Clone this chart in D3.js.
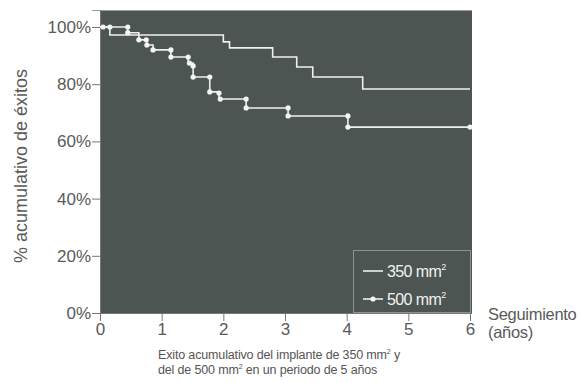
<!DOCTYPE html>
<html><head><meta charset="utf-8">
<script src="https://cdn.jsdelivr.net/npm/d3@7"></script>
<style>
body{margin:0;background:#fff;}
text{font-family:"Liberation Sans",Arial,Helvetica,sans-serif;}
</style></head>
<body><svg id="c" width="580" height="383"></svg>
<script>
// ---- data ----
const xTicks = [0,1,2,3,4,5,6];
const yTicks = [0,20,40,60,80,100];
// 350 mm² series: step times (years) and cumulative success (%)
const times350 = [0, 0.16, 2.0, 2.1, 2.8, 3.19, 3.45, 4.26, 6.0];
const surv350  = [100, 97.2, 94.8, 92.7, 89.5, 86.0, 82.5, 78.3, 78.3];
// 500 mm² series: step times and values
const times500 = [0, 0.45, 0.63, 0.76, 0.86, 1.15, 1.43, 1.51, 1.78, 1.93, 2.37, 3.05, 4.02, 6.0];
const surv500  = [100, 98.0, 95.5, 93.7, 92.0, 89.5, 87.4, 82.5, 77.3, 74.8, 71.7, 68.9, 65.0, 65.0];
// 500 mm² markers (time, %)
const marks500t = [0.05,0.16,0.45,0.45,0.63,0.75,0.76,0.86,1.15,1.15,1.43,1.45,1.51,1.51,1.78,1.78,1.93,1.95,2.37,2.37,3.05,3.05,4.02,4.02,6.0];
const marks500v = [100,100,100,98,95.5,95.5,93.7,92,92,89.5,89.5,87.4,86.4,82.5,82.5,77.3,76.9,74.8,74.8,71.7,71.7,68.9,68.9,65,65];
const legendLabels = ["350 mm", "500 mm"];

const svg = d3.select("#c");
const x = d3.scaleLinear().domain([0,6]).range([100,470]);
const y = d3.scaleLinear().domain([0,100]).range([313,27]);

const bg = "#4c5551";
svg.append("rect").attr("x",100).attr("y",10).attr("width",372).attr("height",303).attr("fill",bg);
svg.append("line").attr("x1",92).attr("x2",472).attr("y1",10.5).attr("y2",10.5).attr("stroke","#9a9a9a").attr("stroke-width",1);

// axes
const ya = svg.append("g").attr("transform","translate(100,0)")
  .call(d3.axisLeft(y).tickValues(yTicks).tickSize(8).tickPadding(1).tickFormat(d=>d+"%"));
ya.select(".domain").remove();
ya.selectAll("line").attr("stroke","#777");
ya.selectAll("text").attr("fill","#5a5a5a").attr("font-size",17);

const xa = svg.append("g").attr("transform","translate(0,313)")
  .call(d3.axisBottom(x).tickValues(xTicks).tickSize(8).tickPadding(2).tickFormat(d3.format("d")));
xa.select(".domain").remove();
xa.selectAll("line").attr("stroke","#777");
xa.selectAll("text").attr("fill","#5a5a5a").attr("font-size",17);
svg.append("line").attr("x1",100.5).attr("x2",100.5).attr("y1",10).attr("y2",321).attr("stroke","#777");
svg.append("line").attr("x1",92).attr("x2",472).attr("y1",313.5).attr("y2",313.5).attr("stroke","#777");

// series
const line = d3.line().x(d=>x(d[0])).y(d=>y(d[1])).curve(d3.curveStepAfter);
const d350 = times350.map((t,i)=>[t,surv350[i]]);
const d500 = times500.map((t,i)=>[t,surv500[i]]);
svg.append("path").attr("d",line(d350)).attr("fill","none").attr("stroke","#eef0ee").attr("stroke-width",1.6);
svg.append("path").attr("d",line(d500)).attr("fill","none").attr("stroke","#eef0ee").attr("stroke-width",1.6);
svg.append("g").selectAll("circle").data(marks500t.map((t,i)=>[t,marks500v[i]])).join("circle")
  .attr("cx",d=>x(d[0])).attr("cy",d=>y(d[1])).attr("r",2.6).attr("fill","#f4f4f4");

// legend
svg.append("rect").attr("x",353.5).attr("y",250.5).attr("width",117).attr("height",62).attr("fill","none").attr("stroke","#8e9390");
const lg = svg.append("g");
legendLabels.forEach((lab,i)=>{
  const yy = 271 + i*28;
  lg.append("line").attr("x1",363).attr("x2",383).attr("y1",yy).attr("y2",yy).attr("stroke","#eef0ee").attr("stroke-width",1.6);
  if(i===1) lg.append("circle").attr("cx",373).attr("cy",yy).attr("r",2.6).attr("fill","#f4f4f4");
  const t = lg.append("text").attr("x",387).attr("y",yy+5.5).attr("fill","#f2f2f2").attr("font-size",16).attr("letter-spacing",-0.6);
  t.append("tspan").text(lab);
  t.append("tspan").attr("font-size",9).attr("dy",-7).text("2");
});

// axis titles
svg.append("text").attr("transform","translate(27,166) rotate(-90)").attr("text-anchor","middle")
  .attr("fill","#5a5a5a").attr("font-size",18).text("% acumulativo de éxitos");
svg.append("text").attr("x",488).attr("y",320).attr("fill","#5a5a5a").attr("font-size",16.5).attr("letter-spacing",-0.3).text("Seguimiento");
svg.append("text").attr("x",488).attr("y",338).attr("fill","#5a5a5a").attr("font-size",16.5).attr("letter-spacing",-0.3).text("(años)");

// caption
const cap1 = svg.append("text").attr("x",158).attr("y",359).attr("fill","#555").attr("font-size",12.5).attr("letter-spacing",-0.15);
cap1.append("tspan").text("Exito acumulativo del implante de 350 mm");
cap1.append("tspan").attr("font-size",7).attr("dy",-5).text("2");
cap1.append("tspan").attr("dy",5).text(" y");
const cap2 = svg.append("text").attr("x",158).attr("y",374).attr("fill","#555").attr("font-size",12.5).attr("letter-spacing",-0.15);
cap2.append("tspan").text("del de 500 mm");
cap2.append("tspan").attr("font-size",7).attr("dy",-5).text("2");
cap2.append("tspan").attr("dy",5).text(" en un periodo de 5 años");
</script></body></html>
